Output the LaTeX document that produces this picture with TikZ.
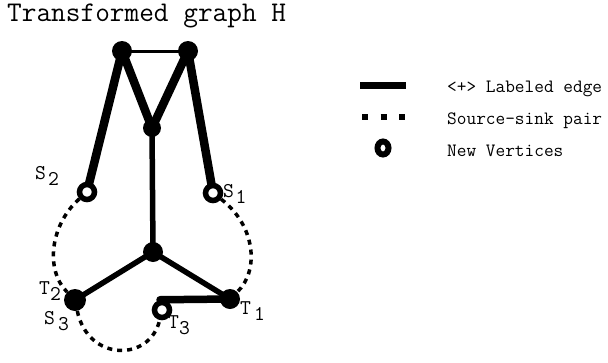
\documentclass[tikz,border=0pt]{standalone}
\usetikzlibrary{backgrounds,shapes.geometric}
\newcommand{\lbl}[3]{#1\kern#2pt\raisebox{-6pt}{#3}}
\tikzset{
  fillv/.style={circle,fill=black,inner sep=0pt,minimum size=#1},
  openv/.style={circle,draw=black,fill=white,line width=5.5pt,inner sep=0pt,minimum size=15pt},
  thickedge/.style={line width=8.5pt},
  midedge/.style={line width=5.5pt},
  thinedge/.style={line width=3pt},
  pairarc/.style={line width=3.5pt,dash pattern=on 5pt off 5pt},
  lab/.style={font=\fontsize{21}{21}\selectfont\ttfamily,inner sep=0pt,anchor=base west},
  legtext/.style={font=\fontsize{18.8}{19}\selectfont\ttfamily,inner sep=0pt,anchor=west}
}
\begin{document}
\begin{tikzpicture}[x=1pt,y=-1pt]
\useasboundingbox (0,0) rectangle (608,362);
% title
\node[font=\fontsize{28.5}{28.5}\selectfont\ttfamily,inner sep=0pt,anchor=base west] (title) at (7,21) {Transformed graph H};
% vertices
\node[fillv=20pt] (TL) at (122,51) {};
\node[fillv=20pt] (TR) at (188,51) {};
\node[fillv=18pt] (M) at (152,128) {};
\node[openv] (S2) at (87,192) {};
\node[openv] (S1) at (213,193) {};
\node[fillv=20pt] (C) at (153,252) {};
\node[fillv=22pt] (T2) at (75,300) {};
\node[fillv=20pt] (T1) at (230,299) {};
\node[openv] (T3) at (162,310) {};
% labels
\node[lab] (lS2) at (35,179) {\lbl{S}{2}{2}};
\node[lab] (lS1) at (223,197) {\lbl{S}{1.5}{1}};
\node[lab] (lT2) at (39,294) {\lbl{T}{0}{2}};
\node[lab] (lS3) at (44,324) {\lbl{S}{3}{3}};
\node[lab] (lT3) at (168,328) {\lbl{T}{0}{3}};
\node[lab] (lT1) at (240,314) {\lbl{T}{3}{1}};
\begin{pgfonlayer}{background}
\draw[thinedge] (TL.center) -- (TR.center);
\draw[thickedge] (TL.center) -- (S2.center);
\draw[thickedge] (TL.center) -- (M.center);
\draw[thickedge] (TR.center) -- (M.center);
\draw[thickedge] (TR.center) -- (S1.center);
\draw[midedge] (M.center) -- (C.center);
\draw[midedge] (C.center) -- (T2.center);
\draw[midedge] (C.center) -- (T1.center);
\draw[line width=7.5pt,line cap=round] ([xshift=-2pt]T3.north) -- (T1.center);
\draw[pairarc] (S2) .. controls (50,225) and (45,270) .. (T2);
\draw[pairarc] (S1) .. controls (255,225) and (260,270) .. (T1);
\draw[pairarc] (T2) .. controls (88,362) and (150,362) .. (T3);
\end{pgfonlayer}
% legend
\coordinate (la) at (360,85);
\coordinate (lb) at (406,85);
\draw[line width=7pt] (la) -- (lb);
\coordinate (da) at (362,117);
\coordinate (db) at (406,117);
\draw[line width=5.5pt,dash pattern=on 6pt off 12.5pt] (da) -- (db);
\node[ellipse,draw=black,fill=white,line width=6pt,inner sep=0pt,minimum width=11pt,minimum height=13pt] (lo) at (383,148) {};
\node[legtext] (t1) at (447,89) {<+> Labeled edge};
\node[legtext] (t2) at (447,121) {Source-sink pair};
\node[legtext] (t3) at (447,151) {New Vertices};
\end{tikzpicture}
\end{document}
